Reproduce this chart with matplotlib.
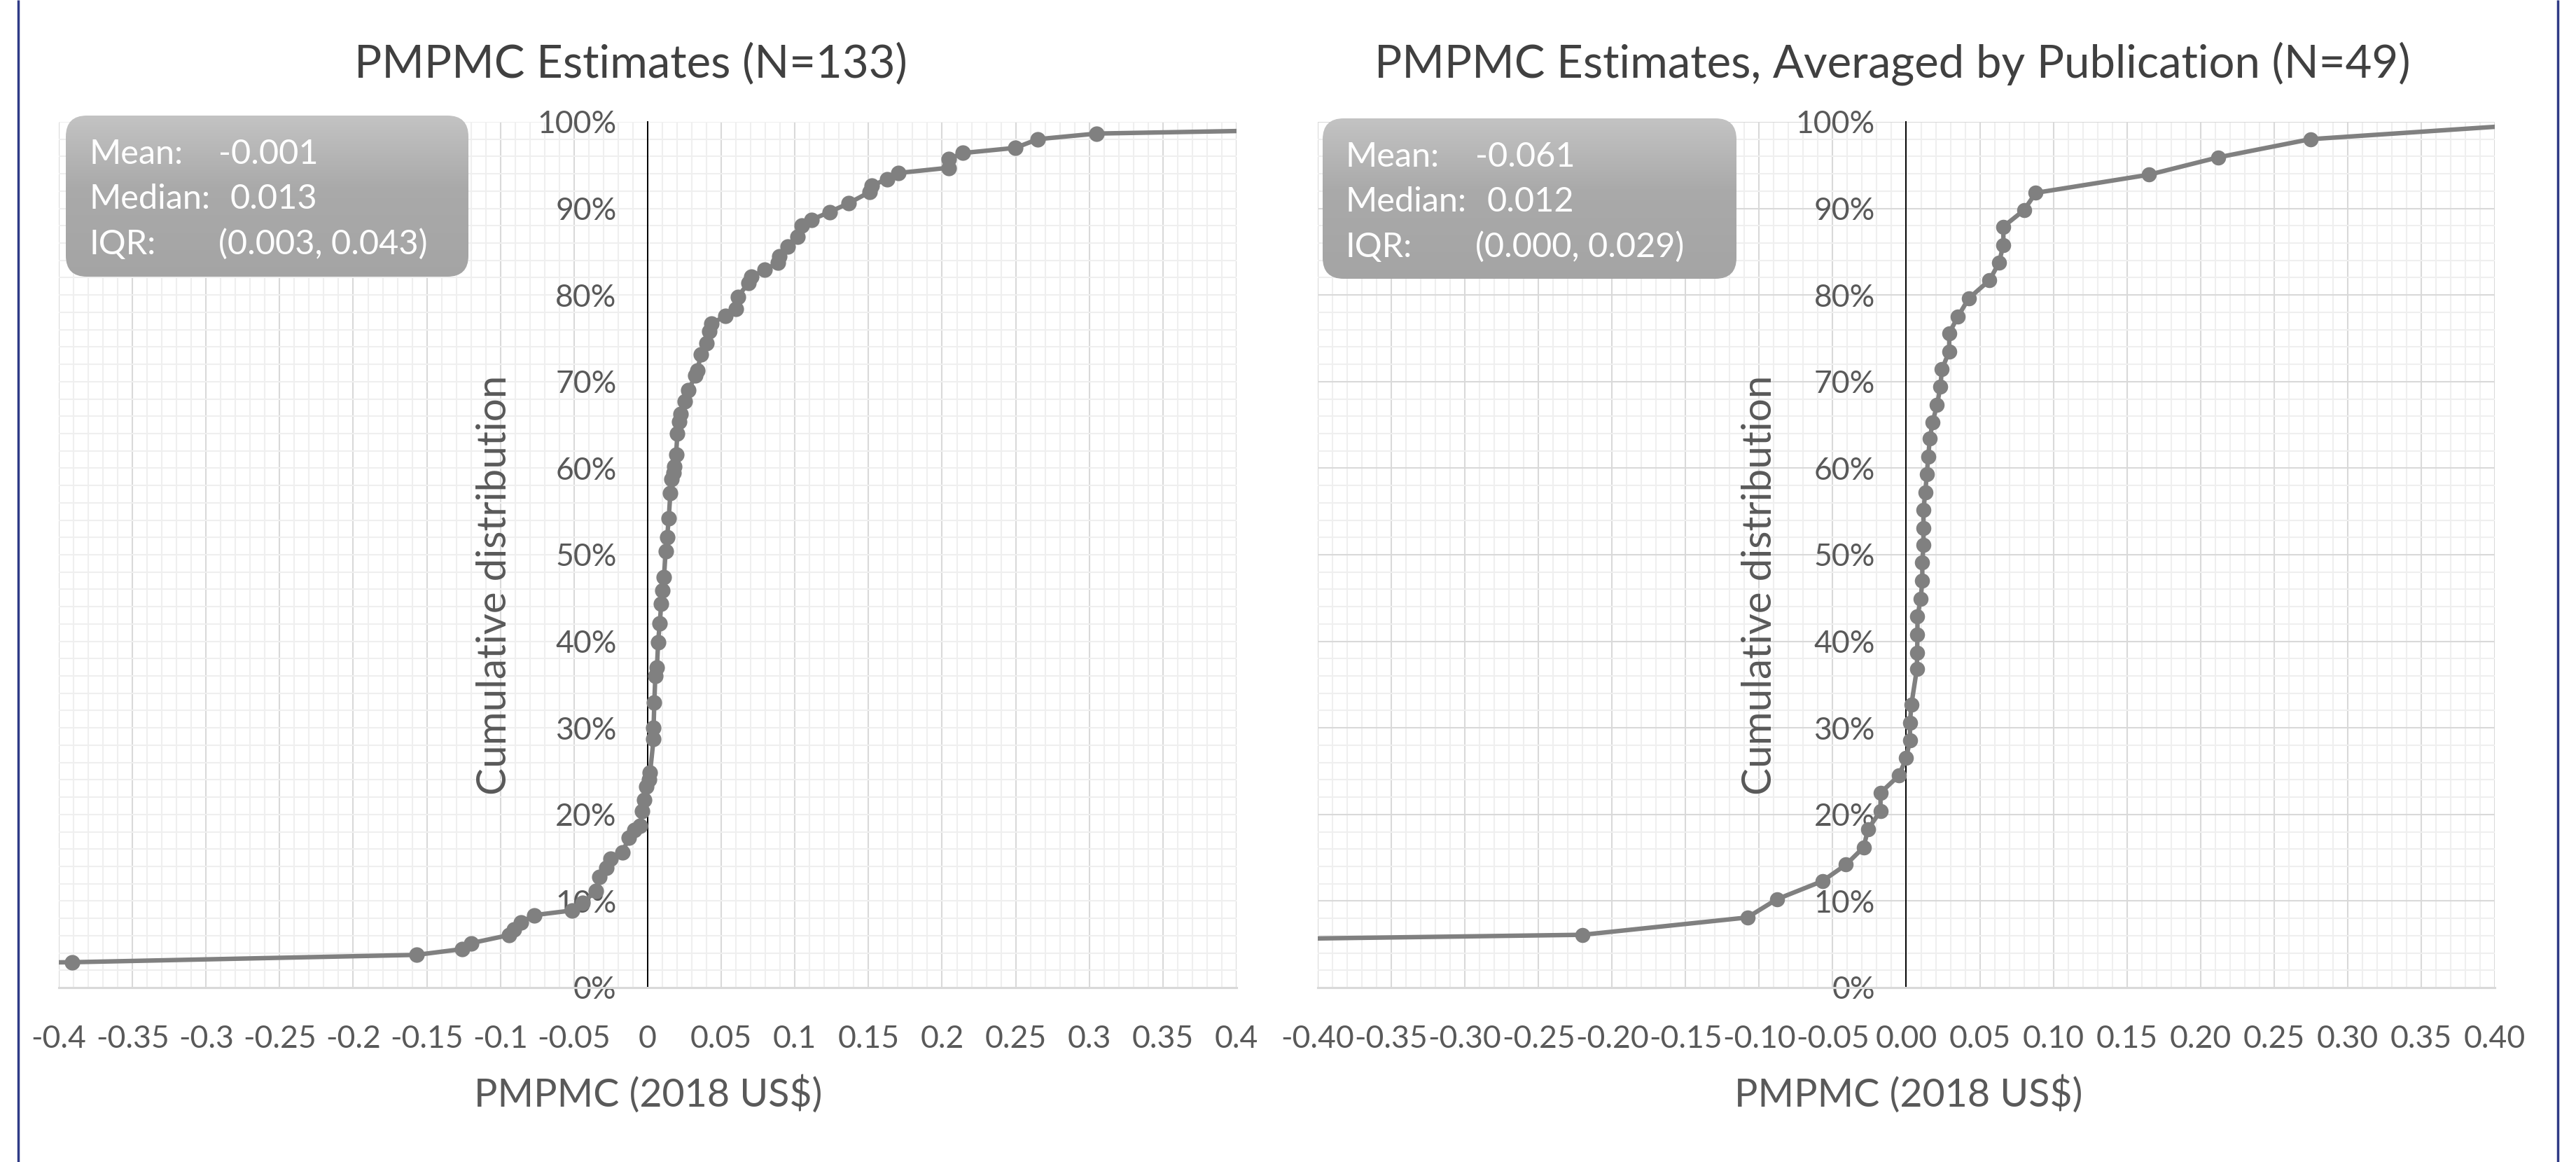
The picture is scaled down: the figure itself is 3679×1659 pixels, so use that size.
import numpy as np
import matplotlib
matplotlib.use("Agg")
import matplotlib.pyplot as plt
from matplotlib.patches import FancyBboxPatch
from matplotlib.ticker import MultipleLocator

plt.rcParams['font.family'] = ['Lato', 'DejaVu Sans']

# ---------------- data ----------------
# Left panel: all estimates, x = PMPMC (2018 US$), y = cumulative share (%)
left_x = [-2.5, -1.5, -0.9, -0.391, -0.157, -0.126, -0.120, -0.094, -0.091, -0.086,
          -0.077, -0.0515, -0.044, -0.035, -0.033, -0.028, -0.025, -0.017, -0.013, -0.009,
          -0.005, -0.004, -0.0024, -0.0008, 0.0008, 0.0016, 0.004, 0.004, 0.0045, 0.0052,
          0.0063, 0.0071, 0.0082, 0.0092, 0.0100, 0.0111, 0.0122, 0.0132, 0.0143, 0.0154,
          0.0162, 0.0176, 0.0182, 0.0193, 0.0202, 0.0212, 0.0222, 0.0252, 0.0277, 0.0325,
          0.0337, 0.0362, 0.0400, 0.0420, 0.0434, 0.0530, 0.0600, 0.0612, 0.0685, 0.0705,
          0.0794, 0.0883, 0.0896, 0.0950, 0.1020, 0.1046, 0.1114, 0.1237, 0.1365, 0.1508,
          0.1520, 0.1625, 0.1705, 0.2045, 0.2047, 0.2140, 0.2498, 0.2650, 0.3050, 0.50, 0.80]
left_y = [0.75, 1.5, 2.26, 2.93, 3.78, 4.45, 5.13, 6.07, 6.75, 7.56,
          8.37, 8.91, 9.8, 11.2, 12.8, 13.8, 14.9, 15.6, 17.3, 18.2,
          18.7, 20.4, 21.7, 23.2, 24.0, 24.8, 28.7, 30.0, 32.9, 36.0,
          37.0, 39.9, 42.1, 44.3, 45.9, 47.4, 50.4, 52.0, 54.2, 57.1,
          58.7, 59.5, 60.2, 61.6, 64.0, 65.4, 66.3, 67.7, 69.0, 70.7,
          71.3, 73.1, 74.4, 75.8, 76.7, 77.6, 78.4, 79.8, 81.4, 82.1,
          82.9, 83.7, 84.5, 85.6, 86.7, 88.0, 88.7, 89.6, 90.6, 91.9,
          92.6, 93.4, 94.1, 94.7, 95.7, 96.4, 97.0, 98.0, 98.65, 99.25, 100.0]

# Right panel: estimates averaged by publication
right_x = [-3.2, -1.08, -0.22, -0.108, -0.088, -0.057, -0.041, -0.029, -0.026, -0.0175,
           -0.0175, -0.005, 0.000, 0.0025, 0.0025, 0.0035, 0.0072, 0.0074, 0.0076, 0.0076,
           0.0098, 0.0109, 0.0109, 0.0117, 0.0117, 0.0117, 0.0129, 0.0140, 0.0149, 0.0160,
           0.0179, 0.0209, 0.0232, 0.0242, 0.0292, 0.0292, 0.0351, 0.0424, 0.0565, 0.063,
           0.066, 0.066, 0.080, 0.088, 0.165, 0.212, 0.2746, 0.45]
right_y = [2.04, 4.08, 6.1, 8.1, 10.2, 12.3, 14.2, 16.2, 18.3, 20.4,
           22.5, 24.5, 26.5, 28.6, 30.6, 32.7, 36.8, 38.7, 40.8, 42.9,
           44.9, 47.0, 49.1, 51.1, 53.1, 55.2, 57.2, 59.3, 61.3, 63.4,
           65.3, 67.3, 69.4, 71.4, 73.5, 75.6, 77.5, 79.6, 81.7, 83.7,
           85.8, 87.9, 89.8, 91.8, 93.9, 95.9, 98.0, 100.0]

x_ticks = [-0.4, -0.35, -0.3, -0.25, -0.2, -0.15, -0.1, -0.05, 0.0,
           0.05, 0.1, 0.15, 0.2, 0.25, 0.3, 0.35, 0.4]
left_xtick_labels = ['-0.4', '-0.35', '-0.3', '-0.25', '-0.2', '-0.15', '-0.1', '-0.05', '0',
                     '0.05', '0.1', '0.15', '0.2', '0.25', '0.3', '0.35', '0.4']
right_xtick_labels = ['-0.40', '-0.35', '-0.30', '-0.25', '-0.20', '-0.15', '-0.10', '-0.05', '0.00',
                      '0.05', '0.10', '0.15', '0.20', '0.25', '0.30', '0.35', '0.40']
y_ticks = [0, 10, 20, 30, 40, 50, 60, 70, 80, 90, 100]
y_tick_labels = ['0%', '10%', '20%', '30%', '40%', '50%', '60%', '70%', '80%', '90%', '100%']

titles = ['PMPMC Estimates (N=133)', 'PMPMC Estimates, Averaged by Publication (N=49)']
x_title = 'PMPMC (2018 US$)'
y_title = 'Cumulative distribution'
stats_labels = ['Mean:', 'Median:', 'IQR:']
stats_left = ['-0.001', '0.013', '(0.003, 0.043)']
stats_right = ['-0.061', '0.012', '(0.000, 0.029)']

# ---------------- figure ----------------
W, H = 3680, 1659
fig = plt.figure(figsize=(W / 100, H / 100), dpi=100)
fig.patch.set_facecolor('white')

TICK_COLOR = '#595959'
LINE_COLOR = '#808080'


def px_axes(x0, y0, x1, y1):
    return fig.add_axes([x0 / W, 1 - y1 / H, (x1 - x0) / W, (y1 - y0) / H])


def setup(ax, xs, ys, xtl, major_y_color, ms):
    ax.set_xlim(-0.4, 0.4)
    ax.set_ylim(0, 100)
    ax.set_xticks(x_ticks)
    ax.set_xticklabels(xtl)
    ax.set_yticks(y_ticks)
    ax.set_yticklabels(y_tick_labels)
    ax.xaxis.set_minor_locator(MultipleLocator(0.01))
    ax.yaxis.set_minor_locator(MultipleLocator(2))
    ax.grid(which='minor', color='#efefef', lw=1.5)
    ax.grid(which='major', axis='x', color='#d9d9d9', lw=1.5)
    ax.grid(which='major', axis='y', color=major_y_color, lw=1.5)
    ax.set_axisbelow(True)
    ax.set_facecolor('white')
    for s in ('top', 'right'):
        ax.spines[s].set_visible(False)
    ax.spines['left'].set_position(('data', 0))
    ax.spines['left'].set_color('black')
    ax.spines['left'].set_linewidth(1.4)
    ax.spines['left'].set_zorder(1.5)
    ax.spines['bottom'].set_color('#d9d9d9')
    ax.spines['bottom'].set_linewidth(2.2)
    ax.tick_params(which='both', length=0)
    ax.tick_params(axis='x', labelsize=32, labelcolor=TICK_COLOR, pad=38)
    ax.tick_params(axis='y', labelsize=32, labelcolor=TICK_COLOR, pad=32)
    ax.plot(xs, ys, color=LINE_COLOR, lw=4.6, marker='o', ms=ms,
            markeredgewidth=0, zorder=3, clip_on=True)


axL = px_axes(84, 174, 1766, 1410)
setup(axL, left_x, left_y, left_xtick_labels, '#efefef', 16)
axR = px_axes(1882, 174, 3563, 1410)
setup(axR, right_x, right_y, right_xtick_labels, '#d9d9d9', 15.5)

# overlay in pixel coordinates for titles, stats boxes and frame
ov = fig.add_axes([0, 0, 1, 1])
ov.set_zorder(10)
ov.patch.set_alpha(0)
ov.axis('off')


def stats_box(x0, y0, x1, y1, values, baselines):
    patch = FancyBboxPatch((x0, y0), x1 - x0, y1 - y0,
                           boxstyle='round,pad=0,rounding_size=30',
                           facecolor='none', edgecolor='none')
    ov.add_patch(patch)
    t = np.linspace(0, 1, 200)
    shade = np.interp(t, [0, 0.45, 1], [0.765, 0.665, 0.645])
    img = np.repeat(shade[:, None], 2, axis=1)
    rgb = np.dstack([img, img, img])
    im = ov.imshow(rgb, extent=(x0, x1, y1, y0), origin='upper',
                   aspect='auto', interpolation='bilinear', zorder=2)
    im.set_clip_path(patch)
    for lab, val, yb, dx in zip(stats_labels, values, baselines, [218, 235, 218]):
        ov.text(x0 + 33, yb, lab, color='white', fontsize=35, va='baseline', ha='left', zorder=3)
        ov.text(x0 + dx, yb, val, color='white', fontsize=35, va='baseline', ha='left', zorder=3)


stats_box(94, 165, 669, 395, stats_left, [234, 298, 363])
stats_box(1889, 169, 2480, 398, stats_right, [238, 302, 367])

# titles
ov.text(901, 110, titles[0], fontsize=47, color='#404040', ha='center', va='baseline')
ov.text(2703, 110, titles[1], fontsize=47, color='#404040', ha='center', va='baseline')

# axis titles
ov.text(926, 1580, x_title, fontsize=40, color=TICK_COLOR, ha='center', va='baseline')
ov.text(2726, 1580, x_title, fontsize=40, color=TICK_COLOR, ha='center', va='baseline')
ov.text(723, 835, y_title, fontsize=42, color=TICK_COLOR, ha='center', va='baseline',
        rotation=90, rotation_mode='anchor')
ov.text(2530, 835, y_title, fontsize=42, color=TICK_COLOR, ha='center', va='baseline',
        rotation=90, rotation_mode='anchor')

# frame lines at the sides
ov.plot([26, 26], [0, H], color='#2f3b86', lw=2.5, solid_capstyle='butt')
ov.plot([3653, 3653], [0, H], color='#2f3b86', lw=2.5, solid_capstyle='butt')

ov.set_xlim(0, W)
ov.set_ylim(H, 0)

fig.savefig('out.png', dpi=100, facecolor='white')
